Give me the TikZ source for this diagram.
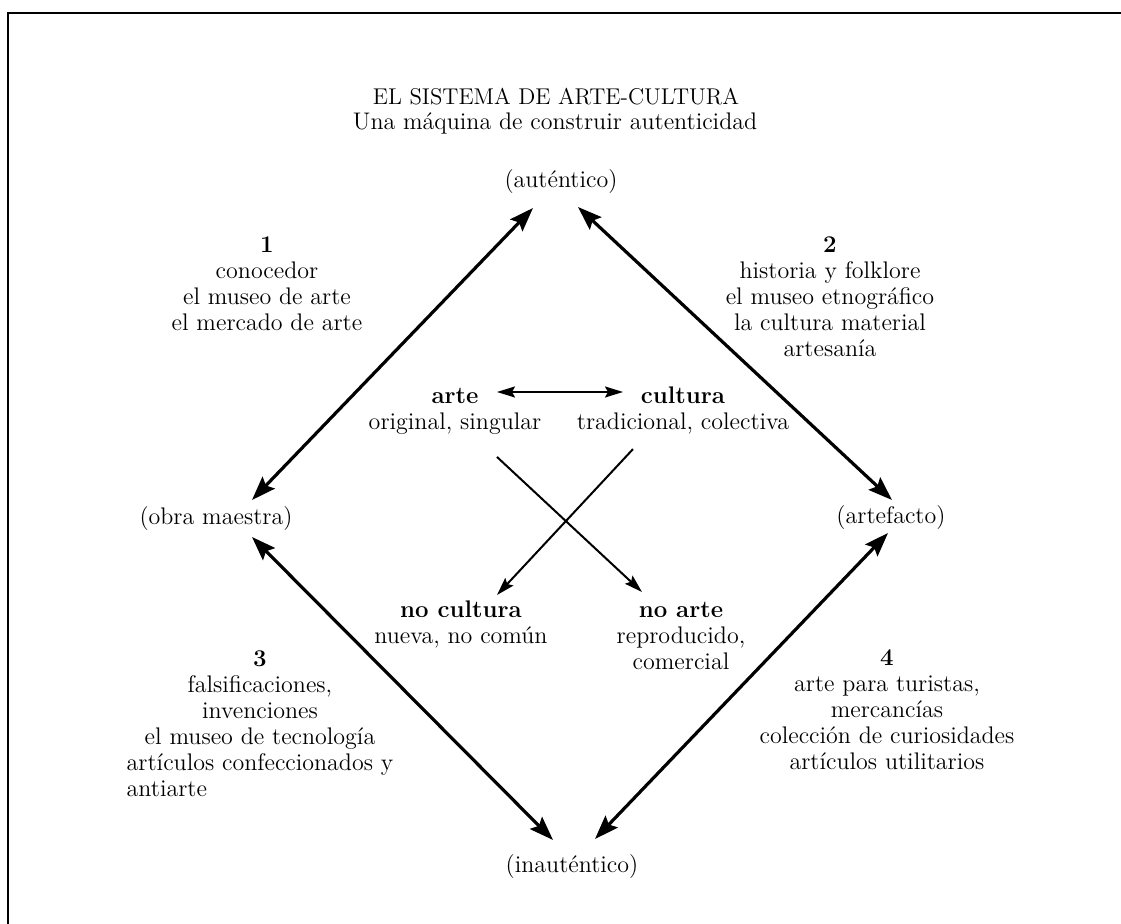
\documentclass[tikz,border=0pt]{standalone}
\usetikzlibrary{arrows.meta,calc}
\begin{document}
\begin{tikzpicture}[x=0.5pt,y=-0.5pt,
  lab/.style={font=\fontsize{12}{13}\selectfont, align=center, inner sep=0pt},
  bigarrow/.style={line width=1.6pt, {Stealth[length=12pt,width=8.5pt,inset=2pt]}-{Stealth[length=12pt,width=8.5pt,inset=2pt]}},
  thinboth/.style={line width=1pt, {Stealth[length=9pt,width=5.5pt,inset=1.5pt]}-{Stealth[length=9pt,width=5.5pt,inset=1.5pt]}},
  thinto/.style={line width=1pt, -{Stealth[length=9pt,width=5.5pt,inset=1.5pt]}}]
\useasboundingbox (0,0) rectangle (1121,924);
\draw[line width=1pt] (1121,13) -- (8,13) -- (8,924);

\node[lab, font=\fontsize{11.4}{13}\selectfont] (t1) at (556,97) {EL SISTEMA DE ARTE-CULTURA};
\node[lab] (t2) at (555,123) {Una máquina de construir autenticidad};

\node[lab] (au) at (561,182) {(auténtico)};
\node[lab] (om) at (216,519) {(obra maestra)};
\node[lab] (af) at (891,518) {(artefacto)};
\node[lab] (ia) at (572,867) {(inauténtico)};

\node[lab, anchor=north] (b1) at (267,236) {\textbf{1}\\conocedor\\el museo de arte\\el mercado de arte};
\node[lab, anchor=north] (b2) at (830,236) {\textbf{2}\\historia y folklore\\el museo etnográfico\\la cultura material\\artesanía};
\node[lab, anchor=north] (b3) at (260,650) {\textbf{3}\\falsificaciones,\\invenciones\\el museo de tecnología\\artículos confeccionados y\\\rlap{antiarte}\phantom{artículos confeccionados y}};
\node[lab, anchor=north] (b4) at (887,649) {\textbf{4}\\arte para turistas,\\mercancías\\colección de curiosidades\\artículos utilitarios};

\node[lab, anchor=north] (arte) at (455,388) {\textbf{arte}\\original, singular};
\node[lab, anchor=north] (cultura) at (683,386) {\textbf{cultura}\\tradicional, colectiva};
\node[lab, anchor=north] (nocult) at (461,600) {\textbf{no cultura}\\nueva, no común};
\node[lab, anchor=north] (noarte) at (681,602) {\textbf{no arte}\\reproducido,\\comercial};

\draw[thinboth] ($(arte.north)+(42,4)$) -- ($(cultura.north)+(-60,6)$);
\draw[thinto] ($(arte.south)+(42,22)$) -- ($(noarte.north)+(-39,-10)$);
\draw[thinto] ($(cultura.south)+(-50,15)$) -- ($(nocult.north)+(36,-5)$);

\draw[bigarrow] ($(au.center)+(-28,26)$) -- ($(om.center)+(36,-19)$);
\draw[bigarrow] ($(au.center)+(17,25)$) -- ($(af.center)+(1,-18)$);
\draw[bigarrow] ($(om.center)+(36,18)$) -- ($(ia.center)+(-19,-27)$);
\draw[bigarrow] ($(ia.center)+(23,-28)$) -- ($(af.center)+(-3,15)$);
\end{tikzpicture}
\end{document}
